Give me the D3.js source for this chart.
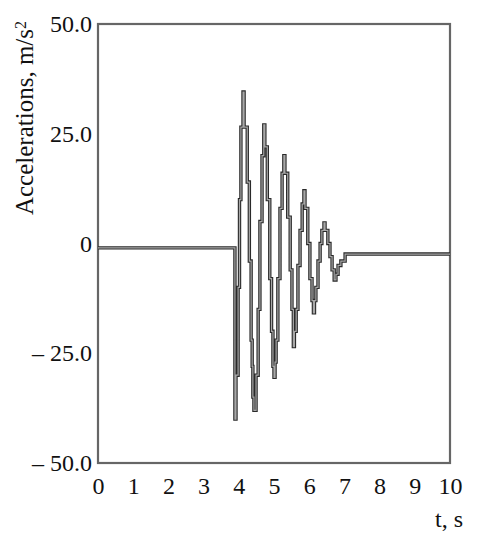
<!DOCTYPE html>
<html>
<head>
<meta charset="utf-8">
<script src="https://cdn.jsdelivr.net/npm/d3@7"></script>
<style>
  body { margin: 0; background: #fff; }
  text { font-family: "Liberation Serif", "DejaVu Serif", serif; fill: #111; }
</style>
</head>
<body>
<script>
// time (s) and acceleration (m/s^2); each value holds until the next time
var time = [0, 3.89, 3.92, 3.98, 4.02, 4.06, 4.12, 4.15, 4.24, 4.30, 4.35, 4.38, 4.40, 4.43,
  4.49, 4.55, 4.60, 4.66, 4.71, 4.74, 4.81, 4.88, 4.93, 4.97, 5.00, 5.03,
  5.06, 5.11, 5.17, 5.23, 5.28, 5.31, 5.39, 5.46, 5.51, 5.55, 5.58,
  5.63, 5.68, 5.74, 5.80, 5.85, 5.88, 5.96, 6.02, 6.08, 6.12, 6.15,
  6.19, 6.25, 6.31, 6.36, 6.42, 6.45, 6.53, 6.59, 6.65, 6.71,
  6.76, 6.82, 6.90, 7.02, 10];
var accel = [-1, -40, -30, -10, 10, 26.5, 34.5, 26.5, 14, -4, -22, -28, -35, -38,
  -30, -15, 5, 20, 27, 22, 10, -8, -20, -28, -30.5, -27,
  -22, -8, 8, 16, 20, 16, 6, -6, -15, -23.5, -20,
  -15, -5, 3, 9, 12, 8, 0, -8, -13, -15.8, -13,
  -10, -4, 0, 3, 4.7, 3, 0, -3, -6, -8.3,
  -7, -5, -4, -2.4, -2.4];

var xTicks = [0, 1, 2, 3, 4, 5, 6, 7, 8, 9, 10];
var yTicks = [50, 25, 0, -25, -50];
var yTickLabels = ["50.0", "25.0", "0", "\u2013 25.0", "\u2013 50.0"];

var svgWidth = 483, svgHeight = 550;
var plot = { left: 98, right: 450, top: 24, bottom: 463 };

var svg = d3.select("body").append("svg")
  .attr("width", svgWidth)
  .attr("height", svgHeight);

var xScale = d3.scaleLinear().domain([0, 10]).range([plot.left, plot.right]);
var yScale = d3.scaleLinear().domain([-50, 50]).range([plot.bottom, plot.top]);

// frame
svg.append("rect")
  .attr("x", plot.left).attr("y", plot.top)
  .attr("width", plot.right - plot.left).attr("height", plot.bottom - plot.top)
  .attr("fill", "none")
  .attr("stroke", "#666")
  .attr("stroke-width", 2.2);

// axes (labels only)
svg.append("g")
  .attr("transform", `translate(0, ${plot.bottom})`)
  .call(d3.axisBottom(xScale).tickValues(xTicks).tickSize(0).tickPadding(14).tickFormat(d3.format("d")));
svg.append("g")
  .attr("transform", `translate(${plot.left}, 0)`)
  .call(d3.axisLeft(yScale).tickValues(yTicks).tickSize(0).tickPadding(6)
    .tickFormat(function(d, i) { return yTickLabels[i]; }));
svg.selectAll(".domain").remove();
svg.selectAll(".tick text")
  .attr("font-family", "Liberation Serif")
  .attr("font-size", 24)
  .attr("fill", "#111");

// axis titles
var yTitle = svg.append("text")
  .attr("transform", "translate(33, 118) rotate(-90)")
  .attr("text-anchor", "middle")
  .attr("font-size", 25);
yTitle.append("tspan").text("Accelerations, m/s");
yTitle.append("tspan").attr("dy", "-0.45em").attr("font-size", 16).text("2");

svg.append("text")
  .attr("x", 463).attr("y", 527)
  .attr("text-anchor", "end")
  .attr("font-size", 24)
  .text("t, s");

// signal
var data = time.map(function(t, i) { return { t: t, a: accel[i] }; });
var line = d3.line()
  .x(d => xScale(d.t))
  .y(d => yScale(d.a))
  .curve(d3.curveStepAfter);

svg.append("path")
  .datum(data)
  .attr("d", line)
  .attr("fill", "none")
  .attr("stroke", "#2a2a2a")
  .attr("stroke-width", 3.4);
svg.append("path")
  .datum(data)
  .attr("d", line)
  .attr("fill", "none")
  .attr("stroke", "#a8a8a8")
  .attr("stroke-width", 1.2);
</script>
</body>
</html>
